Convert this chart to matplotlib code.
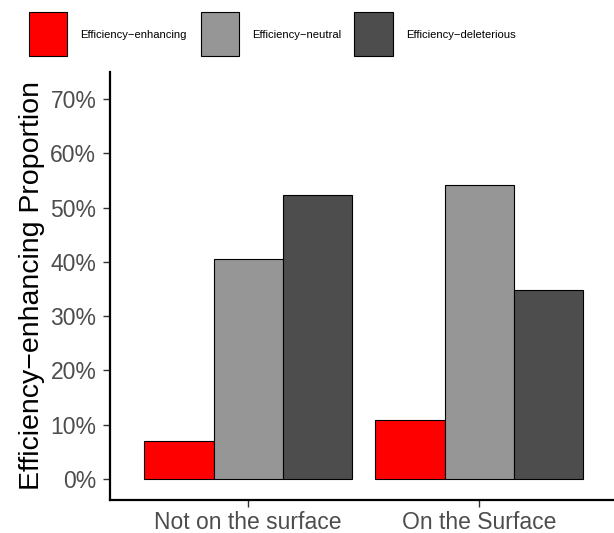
import matplotlib
matplotlib.use("Agg")
import matplotlib.pyplot as plt
from matplotlib.patches import Rectangle
from matplotlib.ticker import FuncFormatter
import numpy as np

plt.rcParams['font.family'] = ['Liberation Sans', 'DejaVu Sans']

categories = ["Not on the surface", "On the Surface"]
series_names = ["Efficiency\u2212enhancing", "Efficiency\u2212neutral", "Efficiency\u2212deleterious"]
enhancing = [7.06, 10.88]
neutral = [40.56, 54.26]
deleterious = [52.30, 34.85]
colors = ["#FF0000", "#969696", "#4D4D4D"]
y_ticks = [0, 10, 20, 30, 40, 50, 60, 70]

fig = plt.figure(figsize=(6.14, 5.33), dpi=100)
W, H = 614, 533
ax = fig.add_axes([109.5 / W, 33 / H, (618 - 109.5) / W, (500 - 72) / H])

x = np.arange(1, len(categories) + 1)
bw = 0.9 / 3
for i, (vals, col) in enumerate(zip([enhancing, neutral, deleterious], colors)):
    ax.bar(x + (i - 1) * bw, vals, width=bw, color=col, edgecolor="black",
           linewidth=0.8, zorder=2)

ax.set_xlim(0.4, 2.6)
ax.set_ylim(-3.87, 75.0)
ax.set_xticks(x)
ax.set_xticklabels(categories)
ax.set_yticks(y_ticks)
ax.yaxis.set_major_formatter(FuncFormatter(lambda v, p: f"{v:.0f}%"))

for s in ["top", "right"]:
    ax.spines[s].set_visible(False)
for s in ["left", "bottom"]:
    ax.spines[s].set_linewidth(1.6)
    ax.spines[s].set_color("black")

ax.tick_params(axis="both", length=5, width=1.0, color="#333333",
               labelsize=16.5, labelcolor="#4D4D4D")
ax.tick_params(axis="y", pad=4.5)
ax.tick_params(axis="x", pad=3)
ax.set_ylabel("Efficiency\u2212enhancing Proportion", fontsize=20.5,
              color="black", labelpad=4)

# legend row at the top
leg_boxes = [(29, 67), (200.7, 238.7), (354.3, 392.7)]
for (x0, x1), col, name in zip(leg_boxes, colors, series_names):
    fig.patches.append(Rectangle((x0 / W, 1 - 55.7 / H), (x1 - x0) / W, 44 / H,
                                 transform=fig.transFigure, facecolor=col,
                                 edgecolor="black", linewidth=0.8))
    fig.text((x1 + 13) / W, 1 - 35 / H, name, fontsize=8.1, va="center",
             ha="left", color="black")

fig.savefig("out.png", dpi=100)
